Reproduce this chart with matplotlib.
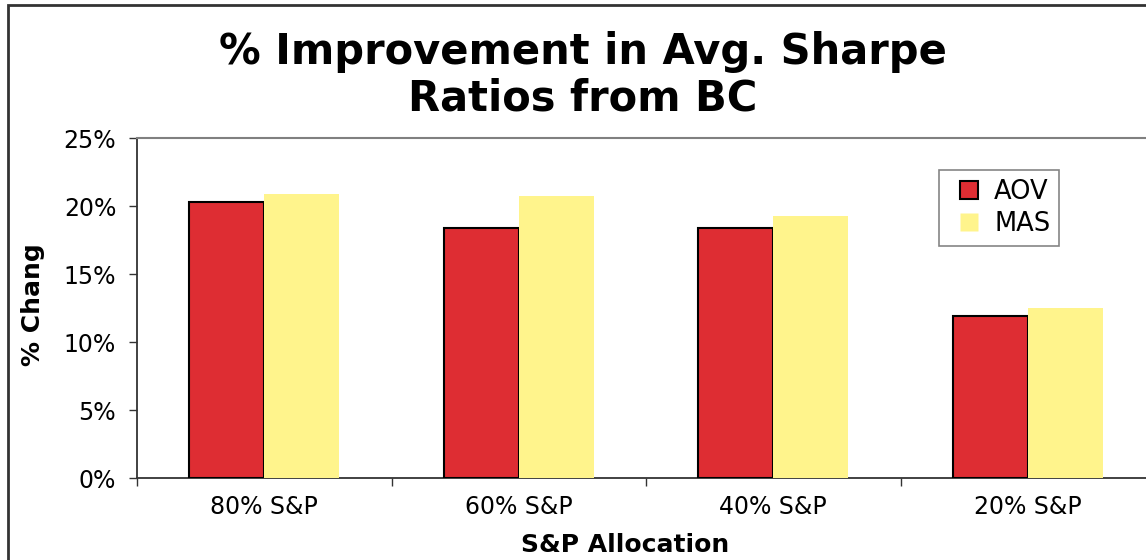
import matplotlib
matplotlib.use("Agg")
import matplotlib.pyplot as plt
from matplotlib.patches import Rectangle
from matplotlib.lines import Line2D
from matplotlib.ticker import FuncFormatter, FixedLocator
import numpy as np

categories = ["80% S&P", "60% S&P", "40% S&P", "20% S&P"]
aov = [20.3, 18.4, 18.4, 11.9]
mas = [20.9, 20.7, 19.3, 12.5]
series_names = ["AOV", "MAS"]
yticks = [0, 5, 10, 15, 20, 25]

W, H = 1146, 560
fig = plt.figure(figsize=(W / 100, H / 100), dpi=100)
fig.patch.set_facecolor("white")

# outer chart border (cropped at right/bottom)
fig.patches.append(Rectangle((8 / W, -0.1), 1.2, (H - 5) / H + 0.1,
                             transform=fig.transFigure, fill=False,
                             edgecolor="#333333", lw=2, zorder=0))

ax_left, ax_right = 137, 137 + 4 * 254.5
ax_top, ax_bottom = 138, 478
ax = fig.add_axes([ax_left / W, 1 - ax_bottom / H, (ax_right - ax_left) / W,
                   (ax_bottom - ax_top) / H])

x = np.arange(len(categories))
bw = 0.295
red = "#DE2D33"
yellow = "#FFF48C"
ax.bar(x - bw / 2, aov, bw, color=red, edgecolor="black", linewidth=1.5, zorder=3)
ax.bar(x + bw / 2, mas, bw, color=yellow, edgecolor="none", linewidth=0, zorder=3)

ax.set_xlim(-0.5, len(categories) - 0.5)
ax.set_ylim(0, 25)
ax.yaxis.set_major_locator(FixedLocator(yticks))
ax.yaxis.set_major_formatter(FuncFormatter(lambda v, p: f"{int(v)}%"))
ax.set_xticks(x)
ax.set_xticklabels(categories)
ax.xaxis.set_minor_locator(FixedLocator(np.arange(-0.5, len(categories), 1.0)))
ax.tick_params(axis="x", which="major", length=0, pad=12, labelsize=17)
ax.tick_params(axis="x", which="minor", length=6, width=1, color="#333333")
ax.tick_params(axis="y", length=6, width=1, color="#333333", labelsize=17, pad=9)

for s in ["left", "bottom"]:
    ax.spines[s].set_color("#333333")
    ax.spines[s].set_linewidth(1.3)
ax.spines["top"].set_color("#808080")
ax.spines["top"].set_linewidth(1.5)
ax.spines["right"].set_visible(False)

fig.text(33 / W, 1 - 305 / H, "% Chang", rotation=90, ha="center", va="center",
         fontsize=18, fontweight="bold")
fig.text(625 / W, 1 - 545 / H, "S&P Allocation", ha="center", va="center",
         fontsize=18, fontweight="bold")

fig.text(583 / W, 1 - 75 / H, "% Improvement in Avg. Sharpe\nRatios from BC",
         ha="center", va="center", fontsize=30, fontweight="bold",
         linespacing=1.15)

handles = [Line2D([], [], linestyle="none", marker="s", markersize=12.5,
                  markerfacecolor=red, markeredgecolor="black", markeredgewidth=1.5),
           Line2D([], [], linestyle="none", marker="s", markersize=13.5,
                  markerfacecolor=yellow, markeredgecolor="none")]
leg = fig.legend(handles, series_names, loc="upper left",
                 bbox_to_anchor=(939 / W, 1 - 170 / H), fontsize=18.5,
                 frameon=True, fancybox=False, edgecolor="#666666",
                 handlelength=1.6, handletextpad=0.2,
                 borderpad=0.35, labelspacing=0.25, borderaxespad=0)
leg.get_frame().set_linewidth(1.2)

fig.savefig("out.png", dpi=100)
